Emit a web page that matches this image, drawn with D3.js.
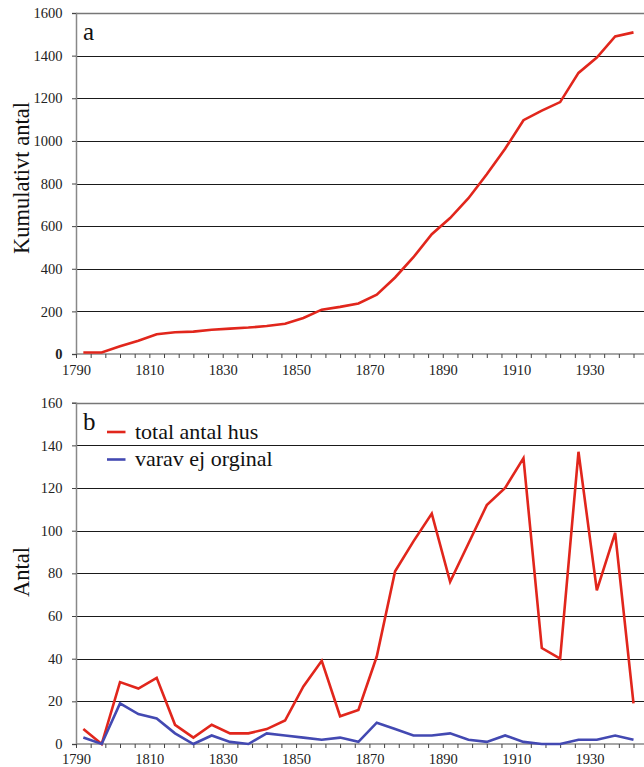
<!DOCTYPE html>
<html><head><meta charset="utf-8">
<script src="https://cdn.jsdelivr.net/npm/d3@7"></script>
<style>
html,body{margin:0;padding:0;background:#fff;}
svg{display:block;}
</style></head>
<body>
<svg id="chart" width="644" height="767"></svg>
<script>
// Data (5-year intervals)
const years = [1792,1797,1802,1807,1812,1817,1822,1827,1832,1837,1842,1847,1852,1857,1862,1867,1872,1877,1882,1887,1892,1897,1902,1907,1912,1917,1922,1927,1932,1937,1942];
const cumulative = [7,7,36,62,93,102,105,114,119,124,131,142,169,208,221,237,278,359,454,562,638,731,843,963,1097,1142,1182,1319,1391,1490,1509];
const totalHus = [7,0,29,26,31,9,3,9,5,5,7,11,27,39,13,16,41,81,95,108,76,94,112,120,134,45,40,137,72,99,19];
const ejOriginal = [3,0,19,14,12,5,0,4,1,0,5,4,3,2,3,1,10,7,4,4,5,2,1,4,1,0,0,2,2,4,2];
const xTickYears = d3.range(1790, 1943, 4);
const xLabelYears = [1790,1810,1830,1850,1870,1890,1910,1930];
const yTicksA = [0,200,400,600,800,1000,1200,1400,1600];
const yTicksB = [0,20,40,60,80,100,120,140,160];
const seriesNames = ["total antal hus","varav ej orginal"];

const FONT = "'Liberation Serif'";
const RED = "#e1261c", BLUE = "#4349b2";
const svg = d3.select("#chart");
const left = 76, right = 644;
const x = d3.scaleLinear().domain([1790, 1942]).range([left, 633.5]);

function panel(cfg){
  const y = d3.scaleLinear().domain([0, cfg.max]).range([cfg.bottom, cfg.top]);
  const g = svg.append("g");
  // gridlines
  g.selectAll("line.grid").data(cfg.ticks.filter(d=>d>0)).join("line")
    .attr("x1", left).attr("x2", right)
    .attr("y1", d=>Math.round(y(d))+0.5).attr("y2", d=>Math.round(y(d))+0.5)
    .attr("stroke", d=> d===cfg.max ? "#777" : "#1a1a1a").attr("stroke-width", d=> d===cfg.max ? 1.3 : 1);
  // y axis
  const ya = d3.axisLeft(y).tickValues(cfg.ticks).tickSize(4).tickPadding(9.5).tickFormat(d3.format("d"));
  const yg = g.append("g").attr("transform", `translate(${left},0)`).call(ya);
  yg.select(".domain").attr("stroke","#888").attr("stroke-width",1.5);
  yg.selectAll(".tick line").attr("stroke","#444");
  yg.selectAll("text").attr("font-size",14.5).attr("fill","#222").style("font-family", FONT);
  if (cfg.boldZero) yg.selectAll(".tick text").filter(d=>d===0).attr("font-weight","bold");
  // x axis
  const xa = d3.axisBottom(x).tickValues(xTickYears).tickSize(4).tickPadding(cfg.xPad)
    .tickFormat(d => xLabelYears.includes(d) ? String(d) : "");
  const xg = g.append("g").attr("transform", `translate(0,${cfg.bottom})`).call(xa);
  xg.select(".domain").attr("d", `M${left},0H${right}`).attr("stroke","#888").attr("stroke-width",1.5);
  xg.selectAll(".tick line").attr("stroke","#444");
  xg.selectAll("text").attr("font-size",14.5).attr("fill","#222").style("font-family", FONT);
  // lines
  cfg.series.forEach(s => {
    const line = d3.line().x((d,i)=>x(years[i])).y(d=>y(d));
    g.append("path").datum(s.values).attr("d", line)
      .attr("fill","none").attr("stroke", s.color).attr("stroke-width",2.6)
      .attr("stroke-linejoin","miter").attr("stroke-linecap","butt");
  });
  // y title
  g.append("text").attr("transform", `translate(${cfg.titleX},${cfg.titleY}) rotate(-90)`)
    .attr("text-anchor","middle").attr("dominant-baseline","central")
    .attr("font-size",22.5).attr("fill","#111").style("font-family", FONT).text(cfg.title);
  // panel letter
  g.append("text").attr("x", 83).attr("y", cfg.letterY).attr("font-size",25).attr("fill","#111")
    .style("font-family", FONT).text(cfg.letter);
  return {g, y};
}

panel({max:1600, ticks:yTicksA, top:13, bottom:354, boldZero:true, xPad:6.5,
  series:[{values:cumulative, color:RED}],
  title:"Kumulativt antal", titleX:21, titleY:178, letter:"a", letterY:39.5});

panel({max:160, ticks:yTicksB, top:402.7, bottom:744, boldZero:false, xPad:5.5,
  series:[{values:totalHus, color:RED},{values:ejOriginal, color:BLUE}],
  title:"Antal", titleX:21, titleY:572, letter:"b", letterY:430});

// legend
const legend = svg.append("g");
[RED, BLUE].forEach((c,i)=>{
  const yy = 432 + i*27.5;
  legend.append("line").attr("x1",107).attr("x2",125.5).attr("y1",yy).attr("y2",yy)
    .attr("stroke",c).attr("stroke-width",2.6);
  legend.append("text").attr("x",135).attr("y",yy+6.5).attr("font-size",22).attr("fill","#111")
    .style("font-family", FONT).text(seriesNames[i]);
});
</script>
</body></html>
